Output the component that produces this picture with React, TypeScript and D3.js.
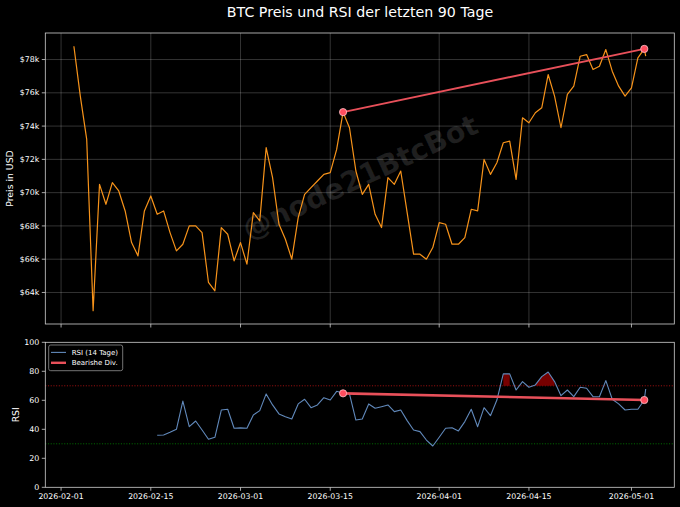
import * as d3 from 'd3';
import React, { Component, RefObject } from 'react';

// daily closes from 2026-02-03, in USD
const startDate = '2026-02-03T00:00:00Z';
const priceValues: number[] = [
  78800, 75800, 73200, 62900, 70500, 69300, 70600, 70100, 68900, 67000,
  66200, 68900, 69800, 68700, 68900, 67600, 66500, 66900, 68000, 68000,
  67600, 64600, 64100, 67900, 67500, 65900, 67000, 65700, 68800, 68300,
  72700, 70900, 68100, 67200, 66000, 68500, 69900, 70300, 70700, 71100,
  71200, 72600, 74840, 73900, 71300, 69900, 70500, 68700, 67900, 70900,
  70500, 71300, 68800, 66300, 66300, 66000, 66700, 68200, 68100, 66900,
  66900, 67300, 69000, 68900, 72000, 71100, 71800, 73000, 73100, 70800,
  74500, 74200, 74800, 75100, 77100, 75800, 73900, 75900, 76400, 78200,
  78300, 77400, 77600, 78600, 77300, 76400, 75800, 76300, 78100, 78640,
];
// live point after the last daily close
const liveDate = '2026-05-03T05:20:00Z';
const livePrice = 78200;

// RSI(14) starts at the 14th price point
const rsiOffset = 13;
const rsiValues: number[] = [
  35.9, 36.1, 37.9, 40.0, 59.5, 41.8, 45.7, 39.5, 33.1, 34.5,
  53.3, 53.8, 40.7, 41.0, 40.7, 49.9, 52.9, 64.4, 56.8, 50.6,
  48.7, 47.1, 57.5, 60.7, 54.9, 56.8, 61.8, 60.2, 66.2, 64.8,
  64.5, 46.4, 47.1, 57.5, 54.5, 55.6, 56.8, 52.2, 53.3, 46.0,
  39.5, 38.4, 32.6, 28.5, 34.5, 40.7, 41.1, 38.9, 45.3, 53.8,
  41.8, 54.9, 49.4, 60.2, 78.2, 78.2, 67.1, 72.9, 69.0, 70.6,
  76.3, 79.5, 72.9, 63.2, 67.1, 62.5, 69.0, 68.3, 62.5, 62.5,
  73.6, 60.7, 57.5, 53.3, 53.8, 53.8, 60.2,
];
const liveRsi = 67.8;

// bearish divergence: indexes into priceValues
const divergence = [42, 89];

const xTicks = ['2026-02-01', '2026-02-15', '2026-03-01', '2026-03-15', '2026-04-01', '2026-04-15', '2026-05-01'];
const priceTicks = [64000, 66000, 68000, 70000, 72000, 74000, 76000, 78000];
const rsiTicks = [0, 20, 40, 60, 80, 100];
const overbought = 70;
const oversold = 30;

const width = 680;
const height = 507;
const left = 45.3;
const right = 674.3;
const top1 = 33;
const bottom1 = 324;
const top2 = 342.3;
const bottom2 = 487.3;

const font = 'DejaVu Sans, Liberation Sans, sans-serif';
const axisColor = '#d0d0d0';
const divColor = '#e8505a';

class App extends Component {
  private ref: RefObject<SVGSVGElement>;

  constructor(props: {}) {
    super(props);
    this.ref = React.createRef();
  }

  componentDidMount(): void {
    this.renderChart();
  }

  renderChart = (): void => {
    const svg = d3.select(this.ref.current);
    svg.selectAll('*').remove();

    const start = new Date(startDate);
    const dates = priceValues.map((v, i) => d3.utcDay.offset(start, i));
    const prices = priceValues.map((v, i) => ({ date: dates[i], value: v }));
    prices.push({ date: new Date(liveDate), value: livePrice });
    const rsi = rsiValues.map((v, i) => ({ date: dates[i + rsiOffset], value: v }));
    rsi.push({ date: new Date(liveDate), value: liveRsi });

    const t0 = +prices[0].date;
    const t1 = +prices[prices.length - 1].date;
    const pad = (t1 - t0) * 0.05;
    const x = d3.scaleUtc().domain([new Date(t0 - pad), new Date(t1 + pad)]).range([left, right]);

    const [pMin, pMax] = d3.extent(prices, (d) => d.value) as [number, number];
    const pPad = (pMax - pMin) * 0.05;
    const yP = d3.scaleLinear().domain([pMin - pPad, pMax + pPad]).range([bottom1, top1]);
    const yR = d3.scaleLinear().domain([0, 100]).range([bottom2, top2]);

    svg.append('rect').attr('width', width).attr('height', height).attr('fill', '#000');

    svg
      .append('text')
      .attr('x', 360)
      .attr('y', 16.7)
      .attr('text-anchor', 'middle')
      .attr('font-family', font)
      .attr('font-size', 14.2)
      .attr('fill', '#fff')
      .text('BTC Preis und RSI der letzten 90 Tage');

    const tickDates = xTicks.map((s) => new Date(s + 'T00:00:00Z'));

    // ---- price panel
    const g1 = svg.append('g');
    g1.selectAll('line.gx')
      .data(tickDates)
      .enter()
      .append('line')
      .attr('x1', (d) => x(d))
      .attr('x2', (d) => x(d))
      .attr('y1', top1)
      .attr('y2', bottom1)
      .attr('stroke', '#fff')
      .attr('stroke-opacity', 0.25)
      .attr('stroke-width', 0.8);
    g1.selectAll('line.gy')
      .data(priceTicks)
      .enter()
      .append('line')
      .attr('x1', left)
      .attr('x2', right)
      .attr('y1', (d) => yP(d))
      .attr('y2', (d) => yP(d))
      .attr('stroke', '#fff')
      .attr('stroke-opacity', 0.25)
      .attr('stroke-width', 0.8);

    g1.append('text')
      .attr('transform', 'translate(360,177) rotate(-25)')
      .attr('text-anchor', 'middle')
      .attr('dominant-baseline', 'central')
      .attr('font-family', font)
      .attr('font-weight', 'bold')
      .attr('font-size', 28.6)
      .attr('fill', '#fff')
      .attr('fill-opacity', 0.12)
      .text('@node21BtcBot');

    const priceLine = d3
      .line<{ date: Date; value: number }>()
      .x((d) => x(d.date))
      .y((d) => yP(d.value));
    g1.append('path')
      .attr('d', priceLine(prices))
      .attr('fill', 'none')
      .attr('stroke', '#f7931a')
      .attr('stroke-width', 1.2)
      .attr('stroke-linejoin', 'round');

    const divP = divergence.map((i) => prices[i]);
    g1.append('path')
      .attr('d', priceLine(divP))
      .attr('fill', 'none')
      .attr('stroke', divColor)
      .attr('stroke-width', 2);
    g1.selectAll('circle')
      .data(divP)
      .enter()
      .append('circle')
      .attr('cx', (d) => x(d.date))
      .attr('cy', (d) => yP(d.value))
      .attr('r', 3.6)
      .attr('fill', '#ff4d5e')
      .attr('stroke', '#ffc4ca')
      .attr('stroke-width', 0.8);

    this.drawFrame(g1, top1, bottom1);
    g1.selectAll('line.tx')
      .data(tickDates)
      .enter()
      .append('line')
      .attr('x1', (d) => x(d))
      .attr('x2', (d) => x(d))
      .attr('y1', bottom1)
      .attr('y2', bottom1 + 3.5)
      .attr('stroke', axisColor)
      .attr('stroke-width', 0.8);
    this.drawYTicks(g1, priceTicks, yP, (v) => `$${v / 1000}k`);
    g1.append('text')
      .attr('transform', `translate(13.3,${(top1 + bottom1) / 2}) rotate(-90)`)
      .attr('text-anchor', 'middle')
      .attr('font-family', font)
      .attr('font-size', 9.3)
      .attr('fill', '#fff')
      .text('Preis in USD');

    // ---- RSI panel
    const g2 = svg.append('g');
    [
      { v: overbought, c: '#ff1a1a', o: 0.6 },
      { v: oversold, c: '#00c000', o: 0.55 },
    ].forEach((h) => {
      g2.append('line')
        .attr('x1', left)
        .attr('x2', right)
        .attr('y1', yR(h.v))
        .attr('y2', yR(h.v))
        .attr('stroke', h.c)
        .attr('stroke-opacity', h.o)
        .attr('stroke-width', 1)
        .attr('stroke-dasharray', '1.1,1.6');
    });

    // fill above 70 (no interpolation, like fill_between where=)
    const runs: { date: Date; value: number }[][] = [];
    let cur: { date: Date; value: number }[] = [];
    rsi.forEach((d) => {
      if (d.value > overbought) cur.push(d);
      else {
        if (cur.length > 1) runs.push(cur);
        cur = [];
      }
    });
    if (cur.length > 1) runs.push(cur);
    const area = d3
      .area<{ date: Date; value: number }>()
      .x((d) => x(d.date))
      .y0(yR(overbought))
      .y1((d) => yR(d.value));
    g2.selectAll('path.fill')
      .data(runs)
      .enter()
      .append('path')
      .attr('d', (d) => area(d))
      .attr('fill', '#8b0000')
      .attr('fill-opacity', 0.85);

    const rsiLine = d3
      .line<{ date: Date; value: number }>()
      .x((d) => x(d.date))
      .y((d) => yR(d.value));
    g2.append('path')
      .attr('d', rsiLine(rsi))
      .attr('fill', 'none')
      .attr('stroke', '#6189bb')
      .attr('stroke-width', 1.1)
      .attr('stroke-linejoin', 'round');

    const divR = divergence.map((i) => rsi[i - rsiOffset]);
    g2.append('path')
      .attr('d', rsiLine(divR))
      .attr('fill', 'none')
      .attr('stroke', divColor)
      .attr('stroke-width', 2.6);
    g2.selectAll('circle')
      .data(divR)
      .enter()
      .append('circle')
      .attr('cx', (d) => x(d.date))
      .attr('cy', (d) => yR(d.value))
      .attr('r', 3.6)
      .attr('fill', '#ff4d5e')
      .attr('stroke', '#ffc4ca')
      .attr('stroke-width', 0.8);

    this.drawFrame(g2, top2, bottom2);
    g2.selectAll('line.tx')
      .data(tickDates)
      .enter()
      .append('line')
      .attr('x1', (d) => x(d))
      .attr('x2', (d) => x(d))
      .attr('y1', bottom2)
      .attr('y2', bottom2 + 3.5)
      .attr('stroke', axisColor)
      .attr('stroke-width', 0.8);
    const fmt = d3.utcFormat('%Y-%m-%d');
    g2.selectAll('text.tx')
      .data(tickDates)
      .enter()
      .append('text')
      .attr('x', (d) => x(d))
      .attr('y', 498.6)
      .attr('text-anchor', 'middle')
      .attr('font-family', font)
      .attr('font-size', 7.8)
      .attr('fill', '#fff')
      .text((d) => fmt(d));
    this.drawYTicks(g2, rsiTicks, yR, (v) => `${v}`);
    g2.append('text')
      .attr('transform', `translate(18.8,${(top2 + bottom2) / 2}) rotate(-90)`)
      .attr('text-anchor', 'middle')
      .attr('font-family', font)
      .attr('font-size', 9.3)
      .attr('fill', '#fff')
      .text('RSI');

    // legend
    const lg = g2.append('g');
    lg.append('rect')
      .attr('x', 48.7)
      .attr('y', 345)
      .attr('width', 74)
      .attr('height', 25.7)
      .attr('rx', 2)
      .attr('fill', '#000')
      .attr('fill-opacity', 0.8)
      .attr('stroke', '#909090')
      .attr('stroke-width', 0.8);
    [
      { label: 'RSI (14 Tage)', color: '#6189bb', w: 1.1, y: 352.4 },
      { label: 'Bearishe Div.', color: divColor, w: 2.4, y: 362.8 },
    ].forEach((e) => {
      lg.append('line')
        .attr('x1', 51)
        .attr('x2', 66)
        .attr('y1', e.y)
        .attr('y2', e.y)
        .attr('stroke', e.color)
        .attr('stroke-width', e.w);
      lg.append('text')
        .attr('x', 71.7)
        .attr('y', e.y)
        .attr('dy', '0.35em')
        .attr('font-family', font)
        .attr('font-size', 7)
        .attr('fill', '#fff')
        .text(e.label);
    });
  };

  drawFrame(g: d3.Selection<SVGGElement, unknown, null, undefined>, t: number, b: number): void {
    g.append('rect')
      .attr('x', left)
      .attr('y', t)
      .attr('width', right - left)
      .attr('height', b - t)
      .attr('fill', 'none')
      .attr('stroke', axisColor)
      .attr('stroke-width', 0.8);
  }

  drawYTicks(
    g: d3.Selection<SVGGElement, unknown, null, undefined>,
    ticks: number[],
    y: d3.ScaleLinear<number, number>,
    fmt: (v: number) => string
  ): void {
    ticks.forEach((v) => {
      g.append('line')
        .attr('x1', left - 3.5)
        .attr('x2', left)
        .attr('y1', y(v))
        .attr('y2', y(v))
        .attr('stroke', axisColor)
        .attr('stroke-width', 0.8);
      g.append('text')
        .attr('x', left - 6)
        .attr('y', y(v))
        .attr('dy', '0.34em')
        .attr('text-anchor', 'end')
        .attr('font-family', font)
        .attr('font-size', 7.9)
        .attr('fill', '#fff')
        .text(fmt(v));
    });
  }

  render(): JSX.Element {
    return (
      <svg
        ref={this.ref}
        width={width}
        height={height}
        viewBox={`0 0 ${width} ${height}`}
        style={{ position: 'absolute', left: 0, top: 0, display: 'block', background: '#000' }}
      ></svg>
    );
  }
}

export default App;
